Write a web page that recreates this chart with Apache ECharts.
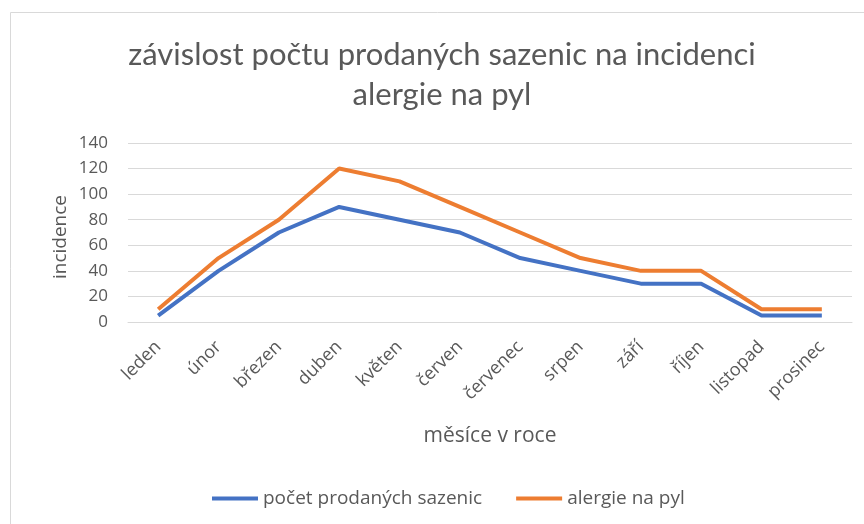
<!DOCTYPE html>
<html><head><meta charset="utf-8">
<script src="https://cdn.jsdelivr.net/npm/echarts@6/dist/echarts.min.js"></script>
<style>html,body{margin:0;padding:0;background:#fff}#c{width:864px;height:524px}</style>
</head><body><div id="c"></div>
<script>
const categories = ['leden','únor','březen','duben','květen','červen','červenec','srpen','září','říjen','listopad','prosinec'];
const seriesNames = ['počet prodaných sazenic','alergie na pyl'];
const sazenice = [5,40,70,90,80,70,50,40,30,30,5,5];
const alergie = [10,50,80,120,110,90,70,50,40,40,10,10];
const yTicks = {min:0,max:140,interval:20};

const chart = echarts.init(document.getElementById('c'));
chart.setOption({
  animation:false,
  graphic:[{type:'rect',shape:{x:10.5,y:12.5,width:900,height:600},style:{fill:'none',stroke:'#d9d9d9',lineWidth:1},silent:true,z:-1}],
  title:{text:'závislost počtu prodaných sazenic na incidenci\nalergie na pyl',left:437,textAlign:'center',top:30,
    textStyle:{fontFamily:'Lato',fontWeight:'normal',fontSize:31,color:'#595959',lineHeight:40}},
  grid:{left:128,right:12,top:143,bottom:202},
  legend:{top:484,left:207,itemWidth:46,itemHeight:4,itemGap:34,icon:'rect',
    textStyle:{fontFamily:'Open Sans',fontSize:19,color:'#595959'},
    data:seriesNames},
  xAxis:{type:'category',data:categories,boundaryGap:true,
    name:'měsíce v roce',nameLocation:'middle',nameGap:104,
    nameTextStyle:{fontFamily:'Open Sans',fontSize:21,color:'#595959'},
    axisLine:{lineStyle:{color:'#d9d9d9'}},axisTick:{show:false},
    axisLabel:{rotate:45,margin:22,fontFamily:'Open Sans',fontSize:18,color:'#595959',interval:0}},
  yAxis:{type:'value',min:yTicks.min,max:yTicks.max,interval:yTicks.interval,
    name:'incidence',nameLocation:'middle',nameGap:58,nameMoveOverlap:false,
    nameTextStyle:{fontFamily:'Open Sans',fontSize:19,color:'#595959',padding:[0,9,0,0]},
    axisLine:{show:false},axisTick:{show:false},
    splitLine:{lineStyle:{color:'#d9d9d9',width:1}},
    axisLabel:{margin:20,fontFamily:'Open Sans',fontSize:17,color:'#595959'}},
  series:[
    {name:seriesNames[0],type:'line',data:sazenice,symbol:'none',lineStyle:{width:4,color:'#4472C4'},itemStyle:{color:'#4472C4'}},
    {name:seriesNames[1],type:'line',data:alergie,symbol:'none',lineStyle:{width:4,color:'#ED7D31'},itemStyle:{color:'#ED7D31'}}
  ]
});
</script></body></html>
